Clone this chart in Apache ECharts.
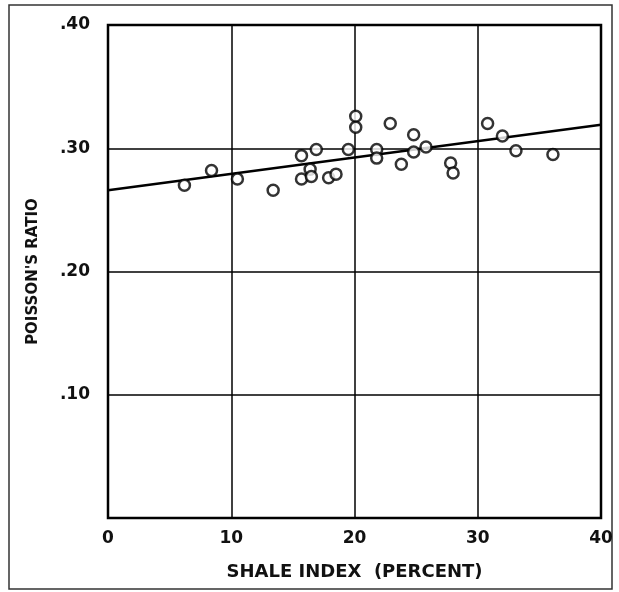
<!DOCTYPE html>
<html><head><meta charset="utf-8">
<script src="https://cdn.jsdelivr.net/npm/echarts@6/dist/echarts.min.js"></script>
<style>html,body{margin:0;padding:0;background:#fff}#c{width:619px;height:592px}</style>
</head><body><div id="c"></div>
<script>
const shaleIndex = [6.2, 8.4, 10.5, 13.4, 15.7, 15.7, 16.4, 16.5, 16.9, 17.9, 18.5, 19.5, 20.1, 20.1, 21.8, 21.8, 22.9, 23.8, 24.8, 24.8, 25.8, 27.8, 28.0, 30.8, 32.0, 33.1, 36.1];
const poissonRatio = [0.270, 0.282, 0.275, 0.266, 0.294, 0.275, 0.283, 0.277, 0.299, 0.276, 0.279, 0.299, 0.326, 0.317, 0.299, 0.292, 0.320, 0.287, 0.311, 0.297, 0.301, 0.288, 0.280, 0.320, 0.310, 0.298, 0.295];
const fitX = [0, 40];
const fitY = [0.266, 0.319];
const xTicks = [0, 10, 20, 30, 40];
const yTickLabels = {0.1: '.10', 0.2: '.20', 0.3: '.30', 0.4: '.40'};

const chart = echarts.init(document.getElementById('c'), null, {renderer: 'canvas'});
const font = '"DejaVu Sans", sans-serif';
chart.setOption({
  animation: false,
  backgroundColor: '#fff',
  graphic: [{type: 'rect', shape: {x: 9, y: 5, width: 603, height: 584}, style: {fill: 'none', stroke: '#333', lineWidth: 1.5}, z: -1}],
  grid: {left: 108, top: 25, right: 18, bottom: 74, show: true, borderColor: '#000', borderWidth: 2.5, backgroundColor: 'transparent'},
  xAxis: {
    type: 'value', min: 0, max: 40, interval: 10,
    name: 'SHALE INDEX  (PERCENT)', nameLocation: 'middle', nameGap: 45,
    nameTextStyle: {fontFamily: font, fontSize: 18, color: '#111', fontWeight: 'bold'},
    axisLine: {show: false}, axisTick: {show: false},
    axisLabel: {fontFamily: font, fontSize: 17, color: '#111', margin: 12, fontWeight: 'bold',
      formatter: v => xTicks.includes(v) ? String(v) : ''},
    splitLine: {show: true, lineStyle: {color: '#000', width: 1.5}}
  },
  yAxis: {
    type: 'value', min: 0, max: 0.4, interval: 0.1,
    name: "POISSON'S RATIO", nameLocation: 'middle', nameGap: 67, nameRotate: 90,
    nameTextStyle: {fontFamily: font, fontSize: 15, color: '#111', fontWeight: 'bold'},
    axisLine: {show: false}, axisTick: {show: false},
    axisLabel: {fontFamily: font, fontSize: 17, color: '#111', margin: 18, fontWeight: 'bold',
      formatter: v => { const k = Math.round(v * 10) / 10; return yTickLabels[k] || ''; }},
    splitLine: {show: true, lineStyle: {color: '#000', width: 1.5}}
  },
  series: [
    {type: 'line', data: fitX.map((x, i) => [x, fitY[i]]), symbol: 'none',
      lineStyle: {color: '#000', width: 2.5}, z: 3},
    {type: 'scatter', data: shaleIndex.map((x, i) => [x, poissonRatio[i]]), symbol: 'circle', symbolSize: 11,
      itemStyle: {color: '#fff', borderColor: '#000', borderWidth: 2.5}, z: 4}
  ]
});
</script></body></html>
